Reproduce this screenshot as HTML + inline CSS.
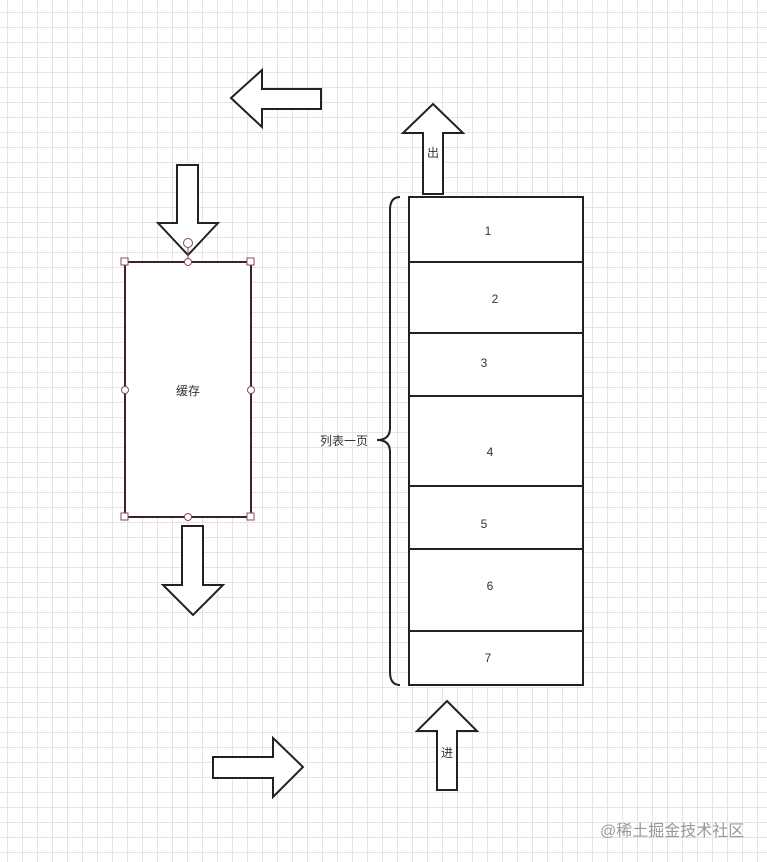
<!DOCTYPE html>
<html><head><meta charset="utf-8"><style>
html,body{margin:0;padding:0;background:#fff;}
svg{display:block;}
text{font-family:"Liberation Sans","Noto Sans CJK SC",sans-serif;font-size:12px;fill:#333;}
</style></head><body>
<svg width="767" height="862" viewBox="0 0 767 862" xmlns="http://www.w3.org/2000/svg">
<defs>
<pattern id="g" x="7" y="12" width="15" height="15" patternUnits="userSpaceOnUse">
<path d="M0 0.5H15M0.5 0V15" stroke="#e4e4e4" stroke-width="1" fill="none"/>
</pattern>
</defs>
<rect width="767" height="862" fill="url(#g)"/>
<g fill="#fff" stroke="#222" stroke-width="2">
<polygon points="231,98 262,70 262,89 321,89 321,109 262,109 262,127"/>
<polygon points="177,165 198,165 198,223 218,223 188,255 158,223 177,223"/>
<polygon points="182,526 203,526 203,585 223,585 193,615 163,585 182,585"/>
<polygon points="433,104 463,133 443,133 443,194 423,194 423,133 403,133"/>
<polygon points="447,701 477,731 457,731 457,790 437,790 437,731 417,731"/>
<polygon points="213,757 273,757 273,738 303,767 273,797 273,778 213,778"/>
<rect x="409" y="197" width="174" height="488"/>
<path d="M409 262H583M409 333H583M409 396H583M409 486H583M409 549H583M409 631H583" fill="none"/>
</g>
<rect x="125" y="262" width="126" height="255" fill="#fff" stroke="#3a2228" stroke-width="2"/>
<g fill="#fff" stroke="#8b4a55" stroke-width="1">
<rect x="121" y="258" width="7" height="7"/><rect x="247" y="258" width="7" height="7"/>
<rect x="121" y="513" width="7" height="7"/><rect x="247" y="513" width="7" height="7"/>
<circle cx="188" cy="262" r="3.5"/><circle cx="188" cy="517" r="3.5"/>
<circle cx="125" cy="390" r="3.5"/><circle cx="251" cy="390" r="3.5"/>
<circle cx="188" cy="243" r="4.5"/>
</g>
<path d="M188 247V258" stroke="#8b4a55" stroke-width="1"/>
<path d="M400 197Q390 197 390 210V428Q390 440 377 440Q390 440 390 452V672Q390 685 400 685" fill="none" stroke="#222" stroke-width="2"/>
<text x="188" y="395" text-anchor="middle">缓存</text>
<text x="320" y="445">列表一页</text>
<text x="488" y="235" text-anchor="middle">1</text>
<text x="495" y="303" text-anchor="middle">2</text>
<text x="484" y="367" text-anchor="middle">3</text>
<text x="490" y="456" text-anchor="middle">4</text>
<text x="484" y="528" text-anchor="middle">5</text>
<text x="490" y="590" text-anchor="middle">6</text>
<text x="488" y="662" text-anchor="middle">7</text>
<text x="433" y="157" text-anchor="middle">出</text>
<text x="447" y="757" text-anchor="middle">进</text>
<text x="600" y="836" style="font-size:16px;fill:#999">@稀土掘金技术社区</text>
</svg>
</body></html>
